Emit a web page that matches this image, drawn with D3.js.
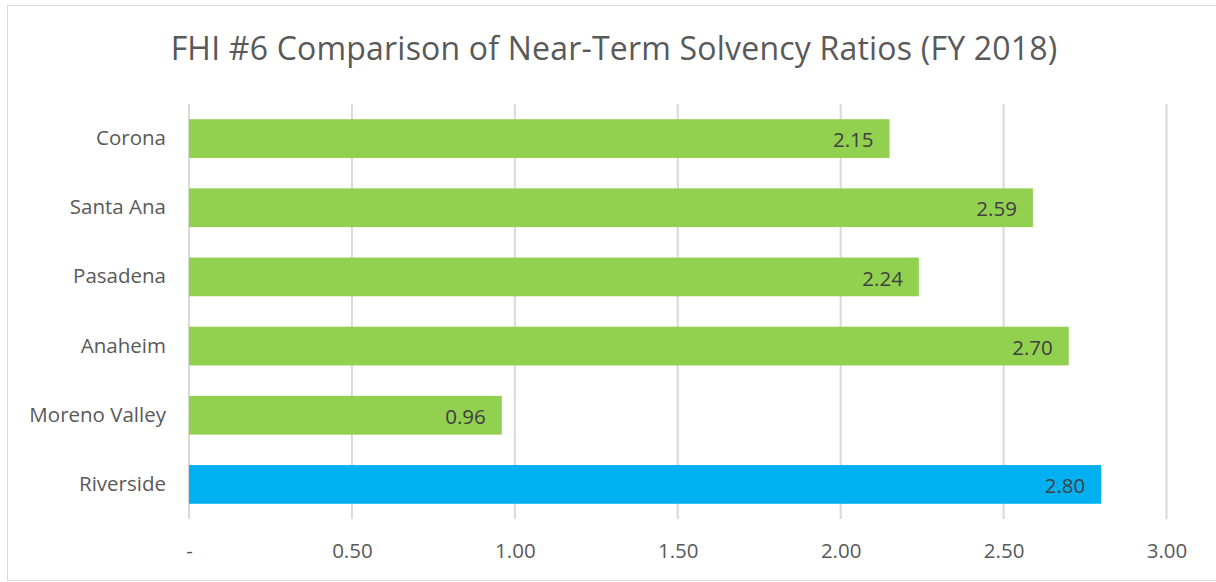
<!DOCTYPE html>
<html><head><meta charset="utf-8">
<script src="https://cdn.jsdelivr.net/npm/d3@7"></script>
<style>body{margin:0;background:#fff;}svg{display:block;}</style>
</head><body>
<svg id="c" width="1216" height="582"></svg>
<script>
const categories = ["Corona","Santa Ana","Pasadena","Anaheim","Moreno Valley","Riverside"];
const values = [2.15, 2.59, 2.24, 2.70, 0.96, 2.80];
const barColors = ["#92D050","#92D050","#92D050","#92D050","#92D050","#00B0F0"];
const tickValues = [0, 0.5, 1, 1.5, 2, 2.5, 3];
const tickLabels = ["-", "0.50", "1.00", "1.50", "2.00", "2.50", "3.00"];
const title = "FHI #6 Comparison of Near-Term Solvency Ratios (FY 2018)";

const svg = d3.select("#c");
const font = "'Open Sans', 'Noto Sans', sans-serif";
svg.append("rect").attr("x",7.5).attr("y",5.5).attr("width",1216).attr("height",575)
  .attr("fill","#fff").attr("stroke","#d9d9d9").attr("stroke-width",1);

const x = d3.scaleLinear().domain([0,3]).range([189,1166.5]);
const y = d3.scaleBand().domain(categories).range([104,519]).paddingInner(0.44).paddingOuter(0.22);

svg.append("text").attr("x",614).attr("y",60).attr("text-anchor","middle")
  .attr("font-family",font).attr("font-size",32).attr("letter-spacing",0.2).attr("fill","#595959").text(title);

const g = svg.append("g");
g.selectAll("line.grid").data(tickValues).join("line")
  .attr("x1",d=>x(d)).attr("x2",d=>x(d)).attr("y1",104).attr("y2",519)
  .attr("stroke","#d9d9d9").attr("stroke-width",2);

g.selectAll("rect.bar").data(values).join("rect")
  .attr("x",x(0)).attr("y",(d,i)=>y(categories[i]))
  .attr("width",d=>x(d)-x(0)).attr("height",y.bandwidth())
  .attr("fill",(d,i)=>barColors[i]);

g.selectAll("text.val").data(values).join("text")
  .attr("x",d=>x(d)-16).attr("y",(d,i)=>y(categories[i])+y.bandwidth()/2+1.5)
  .attr("dy","0.35em").attr("text-anchor","end")
  .attr("font-family",font).attr("font-size",20.5).attr("fill","#404040")
  .text(d=>d.toFixed(2));

const xAxis = d3.axisBottom(x).tickValues(tickValues).tickFormat((d,i)=>tickLabels[i]).tickSize(0).tickPadding(0);
const ax = svg.append("g").attr("transform","translate(0,551)").call(xAxis);
ax.select(".domain").remove();
ax.selectAll("text").attr("font-family",font).attr("font-size",20.5).attr("fill","#595959").attr("dy","0.35em");

const yAxis = d3.axisLeft(y).tickSize(0).tickPadding(0);
const ay = svg.append("g").attr("transform","translate(166,0)").call(yAxis);
ay.select(".domain").remove();
ay.selectAll("text").attr("font-family",font).attr("font-size",20.5).attr("fill","#595959");
</script>
</body></html>
